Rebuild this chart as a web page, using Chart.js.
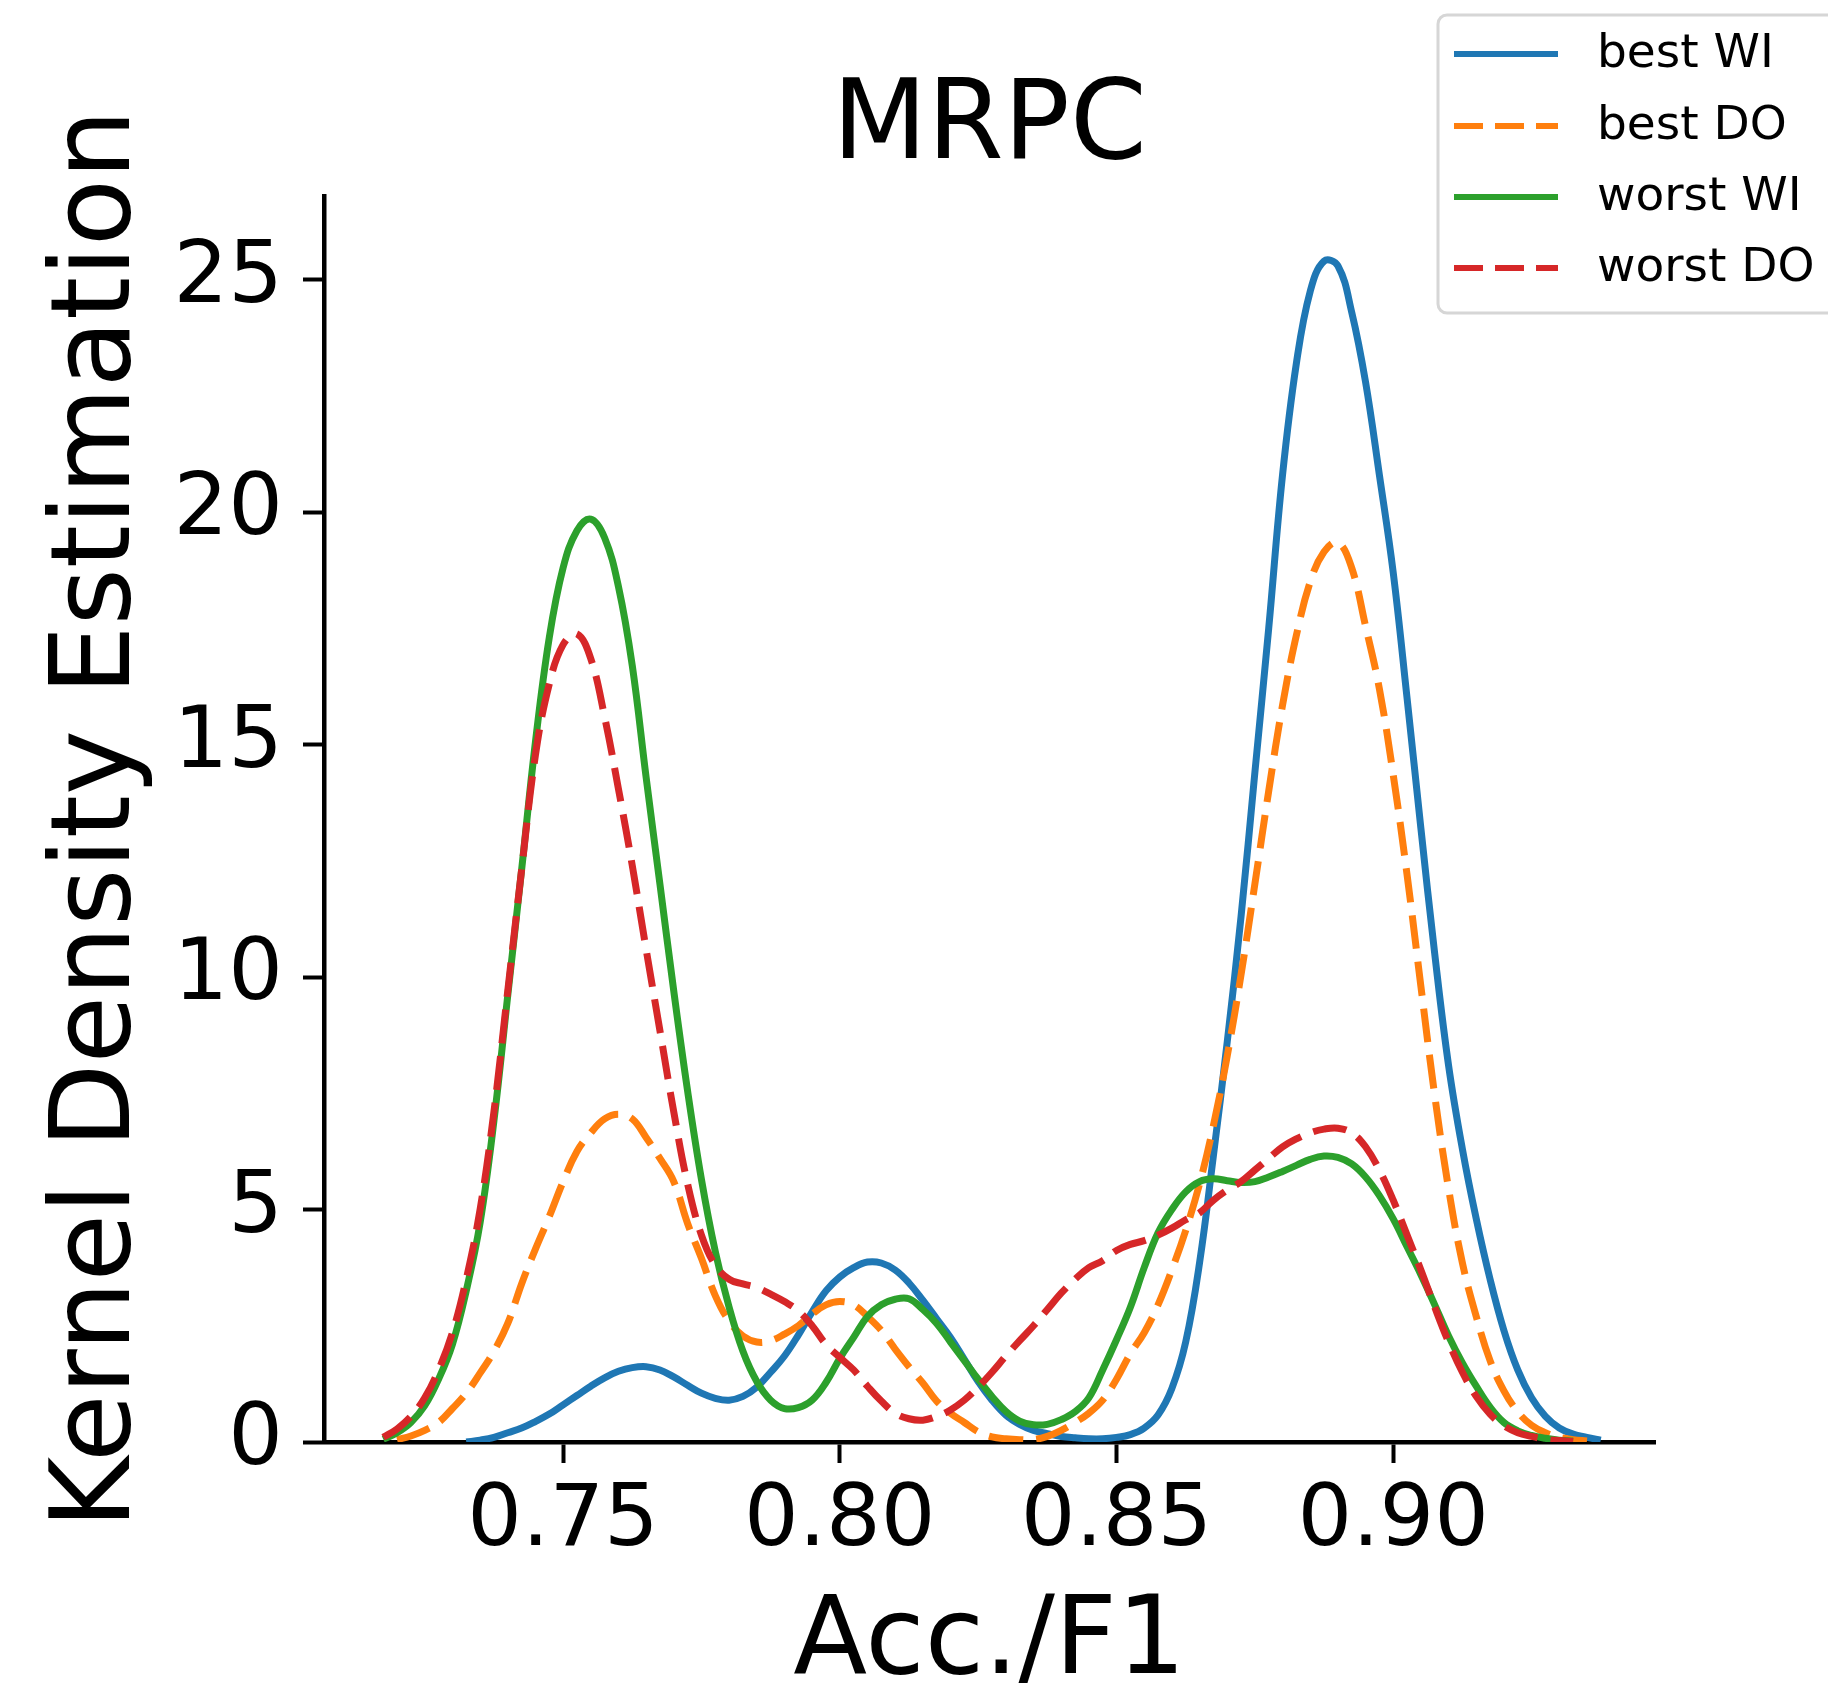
<!DOCTYPE html>
<html>
<head>
<meta charset="utf-8">
<script src="https://cdn.jsdelivr.net/npm/chart.js@4/dist/chart.umd.min.js"></script>
<style>
html,body{margin:0;padding:0;background:#fff;overflow:hidden}
#wrap{width:1828px;height:1685px;position:relative}
</style>
</head>
<body>
<div id="wrap"><canvas id="c" width="1828" height="1685"></canvas></div>
<script>
// ---- data ----
const titleText = 'MRPC';
const xTitle = 'Acc./F1';
const yTitle = 'Kernel Density Estimation';
const seriesLabels = ['best WI', 'best DO', 'worst WI', 'worst DO'];

const xValues = [
  0.715,0.7175,0.72,0.7225,0.725,0.7275,0.73,0.7325,0.735,0.7375,
  0.74,0.7425,0.745,0.7475,0.75,0.7525,0.755,0.7575,0.76,0.7625,
  0.765,0.7675,0.77,0.7725,0.775,0.7775,0.78,0.7825,0.785,0.7875,
  0.79,0.7925,0.795,0.7975,0.80,0.8025,0.805,0.8075,0.81,0.8125,
  0.815,0.8175,0.82,0.8225,0.825,0.8275,0.83,0.8325,0.835,0.8375,
  0.84,0.8425,0.845,0.8475,0.85,0.8525,0.855,0.8575,0.86,0.8625,
  0.865,0.8675,0.87,0.8725,0.875,0.8775,0.88,0.8825,0.885,0.8875,
  0.89,0.8925,0.895,0.8975,0.90,0.9025,0.905,0.9075,0.91,0.9125,
  0.915,0.9175,0.92,0.9225,0.925,0.9275,0.93,0.9325,0.935,0.9375,0.94
];

const bestWI = [
  null,null,null,null,null,null,null,0.0,0.04,0.1,
  0.2,0.3,0.44,0.6,0.8,1.0,1.2,1.38,1.52,1.6,
  1.62,1.55,1.4,1.22,1.05,0.94,0.9,0.98,1.18,1.5,
  1.85,2.3,2.8,3.25,3.55,3.75,3.87,3.85,3.7,3.42,
  3.05,2.65,2.25,1.78,1.3,0.9,0.58,0.38,0.25,0.18,
  0.12,0.09,0.07,0.07,0.1,0.16,0.3,0.58,1.15,2.15,
  3.85,6.15,8.6,11.3,14.4,17.5,20.8,23.2,24.75,25.4,
  25.3,24.3,22.8,20.8,18.7,16.0,13.2,10.5,8.1,6.3,
  4.8,3.5,2.4,1.55,0.95,0.55,0.3,0.17,0.1,0.04,null
];

const bestDO = [
  null,null,0.05,0.13,0.25,0.42,0.72,1.05,1.48,1.95,
  2.55,3.4,4.15,4.85,5.6,6.25,6.65,6.95,7.05,6.95,
  6.55,6.1,5.6,4.7,3.95,3.15,2.6,2.28,2.15,2.18,
  2.32,2.5,2.75,2.95,3.02,2.95,2.7,2.4,2.0,1.62,
  1.27,0.88,0.62,0.42,0.22,0.11,0.07,0.05,0.05,0.12,
  0.25,0.42,0.62,0.9,1.35,1.9,2.35,2.95,3.7,4.55,
  5.55,6.8,8.3,10.05,12.0,14.0,15.85,17.35,18.5,19.15,
  19.35,18.8,17.55,16.2,14.35,12.2,9.8,7.45,5.45,3.85,
  2.7,1.75,1.1,0.65,0.36,0.2,0.1,0.05,0.02,null,null
];

const worstWI = [
  null,0.06,0.2,0.42,0.78,1.35,2.1,3.25,4.71,6.9,
  9.6,12.3,15.05,17.3,18.8,19.6,19.85,19.45,18.4,16.7,
  14.3,12.0,9.7,7.55,5.65,4.1,2.9,1.95,1.3,0.9,
  0.72,0.74,0.9,1.28,1.8,2.25,2.7,2.95,3.07,3.08,
  2.85,2.55,2.15,1.75,1.35,0.98,0.66,0.45,0.37,0.38,
  0.48,0.65,0.95,1.55,2.2,2.9,3.75,4.5,5.0,5.38,
  5.6,5.66,5.62,5.58,5.6,5.7,5.82,5.95,6.08,6.15,
  6.12,5.98,5.7,5.3,4.8,4.2,3.6,2.95,2.28,1.7,
  1.2,0.75,0.42,0.24,0.14,0.08,0.04,0.02,null,null,null
];

const worstDO = [
  null,0.1,0.28,0.55,0.95,1.55,2.35,3.5,5.0,7.1,
  9.7,12.3,14.77,16.3,17.15,17.38,16.85,15.6,14.05,12.4,
  10.6,8.85,7.1,5.55,4.45,3.8,3.5,3.4,3.32,3.18,
  3.02,2.82,2.5,2.1,1.82,1.55,1.2,0.88,0.62,0.5,
  0.47,0.55,0.69,0.9,1.18,1.5,1.85,2.18,2.5,2.85,
  3.2,3.5,3.75,3.9,4.12,4.25,4.33,4.45,4.6,4.78,
  4.93,5.2,5.42,5.6,5.85,6.1,6.35,6.52,6.65,6.73,
  6.75,6.65,6.35,5.85,5.2,4.45,3.7,2.9,2.15,1.5,
  0.98,0.6,0.35,0.2,0.12,0.06,0.03,0.01,null,null,null
];

const xTickValues = [0.75, 0.80, 0.85, 0.90];
const xTickLabels = ['0.75', '0.80', '0.85', '0.90'];
const yTickValues = [0, 5, 10, 15, 20, 25];
const yTickLabels = ['0', '5', '10', '15', '20', '25'];
const xRange = [0.7068, 0.9473];
const yRange = [0, 26.8];

// ---- styling ----
const FONT = "'DejaVu Sans', sans-serif";
const colors = ['#1f77b4', '#ff7f0e', '#2ca02c', '#d62728'];
const DASH = [34, 13];
const dashes = [[], DASH, [], DASH];
const seriesData = [bestWI, bestDO, worstWI, worstDO];

function toPoints(arr) {
  return xValues.map((x, i) => ({ x: x, y: arr[i] }));
}

const datasets = seriesData.map((arr, i) => ({
  label: seriesLabels[i],
  data: toPoints(arr),
  borderColor: colors[i],
  backgroundColor: colors[i],
  borderWidth: 7,
  borderDash: dashes[i],
  borderCapStyle: 'butt',
  borderJoinStyle: 'round',
  pointRadius: 0,
  pointHoverRadius: 0,
  fill: false,
  spanGaps: false,
  tension: 0.4,
  order: 3 - i
}));

const legendPlugin = {
  id: 'mplLegend',
  afterDraw(chart) {
    const ctx = chart.ctx;
    ctx.save();
    const bx = 1438, by = 15, bw = 430, bh = 298, r = 9;
    ctx.beginPath();
    if (ctx.roundRect) ctx.roundRect(bx, by, bw, bh, r); else ctx.rect(bx, by, bw, bh);
    ctx.fillStyle = 'rgba(255,255,255,0.85)';
    ctx.fill();
    ctx.lineWidth = 3;
    ctx.strokeStyle = '#d6d6d6';
    ctx.stroke();
    const rows = [54, 126, 197, 268];
    chart.data.datasets.forEach((ds, i) => {
      const y = rows[i];
      ctx.beginPath();
      ctx.setLineDash((ds.borderDash && ds.borderDash.length) ? [29, 12] : []);
      ctx.lineDashOffset = 0;
      ctx.lineCap = 'butt';
      ctx.moveTo(1454, y);
      ctx.lineTo(1558, y);
      ctx.strokeStyle = ds.borderColor;
      ctx.lineWidth = 6;
      ctx.stroke();
      ctx.setLineDash([]);
      ctx.fillStyle = '#000';
      ctx.font = "47px 'DejaVu Sans'";
      ctx.textBaseline = 'middle';
      ctx.textAlign = 'left';
      ctx.fillText(ds.label, 1597, y + 1);
    });
    ctx.restore();
  }
};

const gridOpts = {
  display: true,
  drawOnChartArea: false,
  drawTicks: true,
  tickLength: 21,
  tickWidth: 4,
  tickColor: '#000'
};
const borderOpts = { display: true, color: '#000', width: 4.5 };

new Chart(document.getElementById('c'), {
  type: 'line',
  data: { datasets: datasets },
  options: {
    responsive: false,
    animation: false,
    devicePixelRatio: 1,
    events: [],
    layout: { padding: { left: 0, right: 173, top: 0, bottom: 0 } },
    plugins: {
      legend: { display: false },
      tooltip: { enabled: false },
      title: {
        display: true,
        text: titleText,
        fullSize: false,
        color: '#000',
        font: { family: FONT, size: 110, weight: 'normal', lineHeight: 1 },
        padding: { top: 74, bottom: 12 }
      }
    },
    scales: {
      x: {
        type: 'linear',
        min: xRange[0],
        max: xRange[1],
        afterBuildTicks: s => { s.ticks = xTickValues.map(v => ({ value: v })); },
        afterFit: s => { s.height = 243; },
        ticks: {
          callback: (v, i) => xTickLabels[i],
          color: '#000',
          font: { family: FONT, size: 86, lineHeight: 1.2 },
          padding: 8,
          maxRotation: 0,
          autoSkip: false
        },
        grid: gridOpts,
        border: borderOpts,
        title: {
          display: true,
          text: xTitle,
          color: '#000',
          font: { family: FONT, size: 108, lineHeight: 1 },
          padding: { top: 0, bottom: -14 }
        }
      },
      y: {
        type: 'linear',
        min: yRange[0],
        max: yRange[1],
        afterBuildTicks: s => { s.ticks = yTickValues.map(v => ({ value: v })); },
        afterFit: s => { s.width = 324; },
        ticks: {
          callback: (v, i) => yTickLabels[i],
          color: '#000',
          font: { family: FONT, size: 86, lineHeight: 1.2 },
          padding: 20,
          autoSkip: false
        },
        grid: gridOpts,
        border: borderOpts,
        title: {
          display: true,
          text: yTitle,
          color: '#000',
          font: { family: FONT, size: 110, lineHeight: 1 },
          padding: { top: 45, bottom: 0 }
        }
      }
    }
  },
  plugins: [legendPlugin]
});
</script>
</body>
</html>
